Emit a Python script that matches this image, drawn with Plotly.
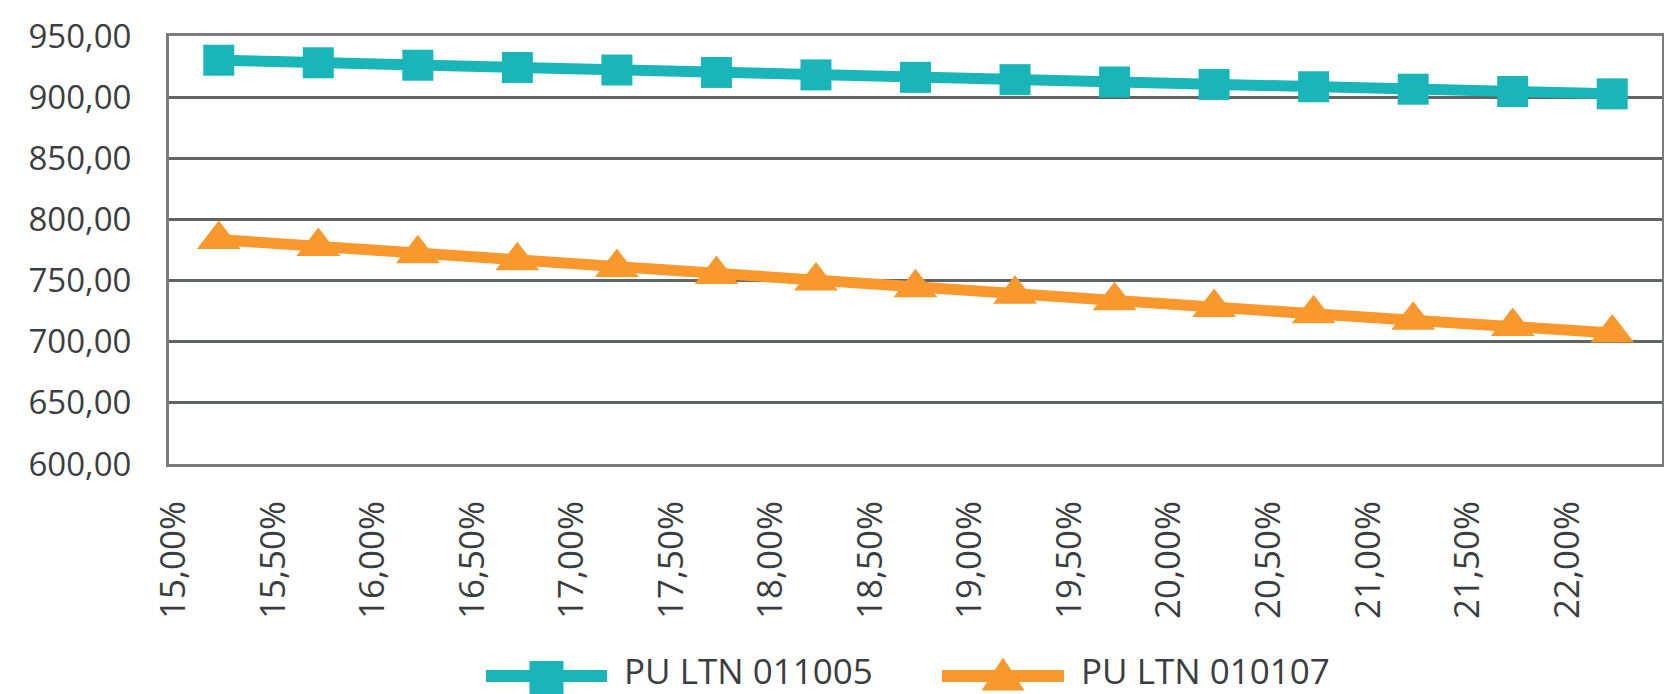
import plotly.graph_objects as go

# Discount rate categories (x axis tick labels)
rates = ["15,00%", "15,50%", "16,00%", "16,50%", "17,00%", "17,50%", "18,00%",
         "18,50%", "19,00%", "19,50%", "20,00%", "20,50%", "21,00%", "21,50%", "22,00%"]

# Series values
pu_011005 = [930.2, 928.1, 926.1, 924.2, 922.2, 920.2, 918.2, 916.2,
             914.3, 912.4, 910.4, 908.5, 906.5, 904.6, 902.7]
pu_010107 = [783.5, 777.8, 772.0, 766.2, 760.6, 755.0, 749.6, 744.2,
             738.8, 733.4, 728.0, 722.8, 717.6, 712.4, 707.2]

series_names = ["PU LTN 011005", "PU LTN 010107"]

TEAL = "#19b5b8"
ORANGE = "#f8982d"
TEXT = "#3b3e41"
GRID = "#606463"
FRAME = "#7b7c7e"
FONT = "Open Sans"

W, H = 1664, 694
M_L, M_R, M_T, M_B = 169, 2, 36, 230
PW, PH = W - M_L - M_R, H - M_T - M_B


def px(x):
    """Page x pixel -> paper fraction."""
    return (x - M_L) / PW


def py(y):
    """Page y pixel -> paper fraction."""
    return (H - M_B - y) / PH


fig = go.Figure()
fig.add_trace(go.Scatter(
    x=rates, y=pu_011005, name=series_names[0], mode="lines+markers",
    line=dict(color=TEAL, width=11),
    marker=dict(symbol="square", size=31, color=TEAL, line=dict(width=0)),
    showlegend=False,
))
fig.add_trace(go.Scatter(
    x=rates, y=pu_010107, name=series_names[1], mode="lines+markers",
    line=dict(color=ORANGE, width=11),
    marker=dict(symbol="triangle-up", size=38, color=ORANGE, line=dict(width=0)),
    showlegend=False,
))

# Legend keys below the plot: line segment with the series marker, then the name
shapes = []
annotations = []
legend_items = [
    (series_names[0], TEAL, "square", 486, 607, 623),
    (series_names[1], ORANGE, "triangle", 942, 1064, 1080),
]
LEG_Y = 676
for name, color, sym, x0, x1, tx in legend_items:
    shapes.append(dict(type="line", xref="paper", yref="paper",
                       x0=px(x0), x1=px(x1), y0=py(LEG_Y), y1=py(LEG_Y),
                       line=dict(color=color, width=12)))
    xc = (x0 + x1) / 2
    if sym == "square":
        shapes.append(dict(type="rect", xref="paper", yref="paper",
                           x0=px(xc - 17), x1=px(xc + 17),
                           y0=py(LEG_Y - 15), y1=py(LEG_Y + 19),
                           line=dict(width=0), fillcolor=color))
    else:
        path = "M {:.5f} {:.5f} L {:.5f} {:.5f} L {:.5f} {:.5f} Z".format(
            px(xc), py(LEG_Y - 18.5), px(xc - 21.5), py(LEG_Y + 14.5),
            px(xc + 21.5), py(LEG_Y + 14.5))
        shapes.append(dict(type="path", xref="paper", yref="paper", path=path,
                           line=dict(width=0), fillcolor=color))
    annotations.append(dict(text=name, xref="paper", yref="paper",
                            x=px(tx), y=py(LEG_Y - 6), xanchor="left", yanchor="middle",
                            showarrow=False, borderpad=0,
                            font=dict(family=FONT, color=TEXT, size=35)))

fig.update_layout(
    width=W, height=H,
    margin=dict(l=M_L, r=M_R, t=M_T, b=M_B, autoexpand=False),
    paper_bgcolor="white", plot_bgcolor="white",
    separators=", ",
    font=dict(family=FONT, color=TEXT, size=33),
    showlegend=False,
    shapes=shapes,
    annotations=annotations,
)

fig.update_xaxes(
    type="category", range=[-0.5, len(rates) - 0.5], automargin=False,
    showgrid=False, zeroline=False,
    showline=True, mirror=True, linecolor=FRAME, linewidth=3,
    ticks="", tickangle=-90, ticklabelshift=-45, ticklabelstandoff=20,
    tickfont=dict(family=FONT, color=TEXT, size=35),
)
fig.update_yaxes(
    range=[600, 950], dtick=50, tick0=600, tickformat=".2f", automargin=False,
    showgrid=True, gridcolor=GRID, gridwidth=3, zeroline=False,
    showline=True, mirror=True, linecolor=FRAME, linewidth=3,
    ticks="", ticklabelstandoff=28,
    tickfont=dict(family=FONT, color=TEXT, size=33),
)

fig.write_html("out.html")
